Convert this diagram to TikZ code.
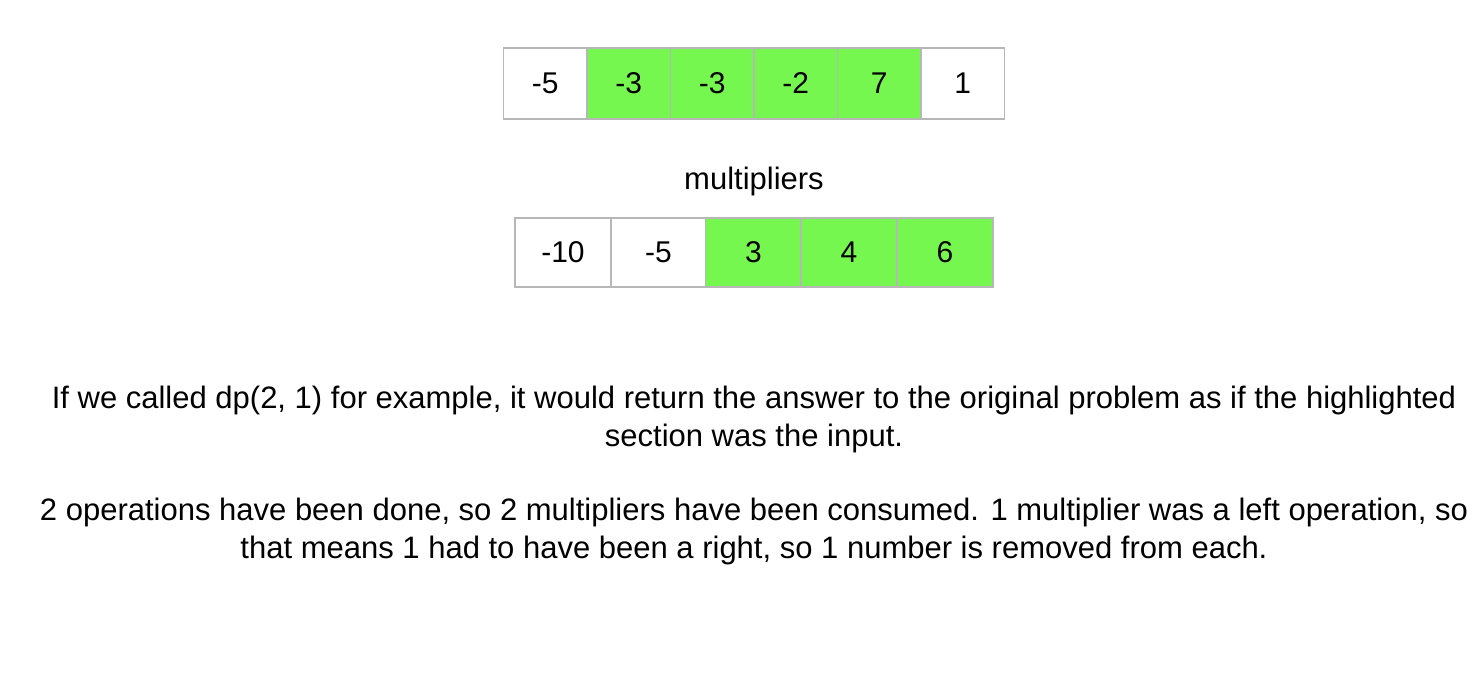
\documentclass[tikz,border=0pt]{standalone}
\usepackage{fontspec}
\setmainfont{Liberation Sans}
\usetikzlibrary{positioning}
\definecolor{cellline}{RGB}{183,183,183}
\definecolor{hlgreen}{RGB}{118,247,79}

\begin{document}
\begin{tikzpicture}[x=1pt, y=-1pt,
  cell/.style={draw=cellline, line width=1.5pt, minimum width=83.5pt, minimum height=71pt,
               inner sep=0pt, font=\fontsize{30}{34}\selectfont},
  mcell/.style={cell, minimum width=95.6pt, minimum height=69pt},
  hl/.style={fill=hlgreen},
  body/.style={align=center, font=\fontsize{31}{38}\selectfont},
]
\useasboundingbox (0,0) rectangle (1474,694);

% nums array
\node[cell]     (n1) at (545.25,83.5) {-5};
\node[cell, hl] (n2) at (628.75,83.5) {-3};
\node[cell, hl] (n3) at (712.25,83.5) {-3};
\node[cell, hl] (n4) at (795.75,83.5) {-2};
\node[cell, hl] (n5) at (879.25,83.5) {7};
\node[cell]     (n6) at (962.75,83.5) {1};

% multipliers array
\node[body] (mlabel) at (754,181) {multipliers};
\node[mcell]     (m1) at (563,252.5) {-10};
\node[mcell]     (m2) at (658.5,252.5) {-5};
\node[mcell, hl] (m3) at (753.5,252.5) {3};
\node[mcell, hl] (m4) at (849,252.5) {4};
\node[mcell, hl] (m5) at (945,252.5) {6};

% explanation
\node[body] (expl1) at (754,419)
  {If we called dp(2, 1) for example, it would return the answer to the original problem as if the highlighted\\
   section was the input.};
\node[body] (expl2) at (754,531)
  {2 operations have been done, so 2 multipliers have been consumed. 1 multiplier was a left operation, so\\
   that means 1 had to have been a right, so 1 number is removed from each.};

\end{tikzpicture}
\end{document}
